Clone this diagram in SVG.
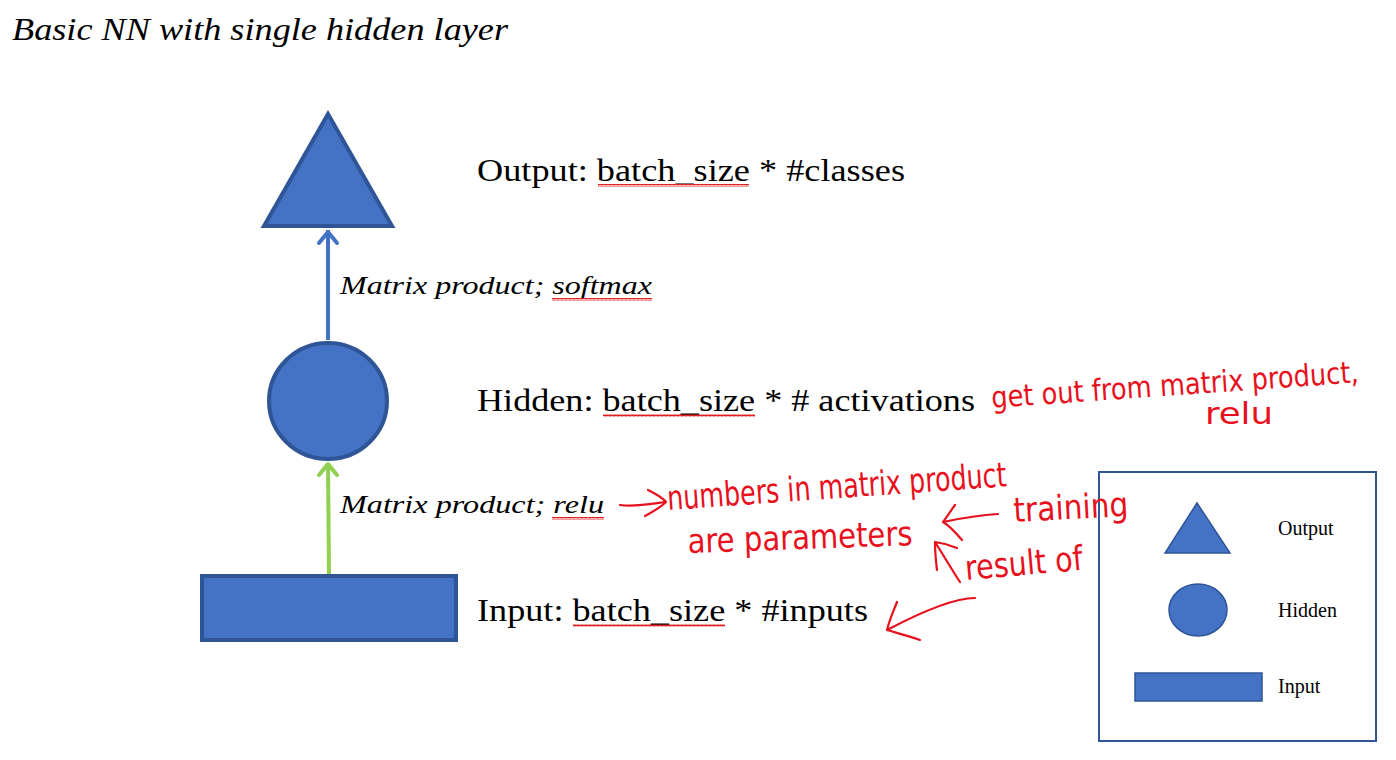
<svg xmlns="http://www.w3.org/2000/svg" width="1396" height="760" viewBox="0 0 1396 760">
<style>
.serif{font-family:"Liberation Serif","Times New Roman",serif;fill:#000}
.it{font-style:italic}
.shape{fill:#4472C4;stroke:#2F5597;stroke-width:4}
.lshape{fill:#4472C4;stroke:#2F5597;stroke-width:1.5}
.sq{fill:none;stroke:#E02020;stroke-width:1}
.hw{font-family:"Liberation Sans Narrow","DejaVu Sans Condensed","Liberation Sans",sans-serif;fill:#E8101C;font-size:34px}
.ink{fill:none;stroke:#E8101C;stroke-width:2.2;stroke-linecap:round;stroke-linejoin:round}
</style>
<defs>
<pattern id="wave" width="4" height="3" patternUnits="userSpaceOnUse">
<path d="M0,2.5 L1,0.5 L2,2.5 L3,0.5 L4,2.5" class="sq"/>
</pattern>
</defs>
<rect width="1396" height="760" fill="#fff"/>
<text class="serif it" x="12" y="40" font-size="32" textLength="496" lengthAdjust="spacingAndGlyphs">Basic NN with single hidden layer</text>

<g id="connectors">
<g id="edge-hidden-output">
<line x1="328" y1="340" x2="328" y2="230" stroke="#4472C4" stroke-width="4"/>
<polyline points="319,243 328,232 337,243" fill="none" stroke="#4472C4" stroke-width="4" stroke-linecap="round" stroke-linejoin="round"/>
</g>
<g id="edge-input-hidden">
<line x1="329" y1="575" x2="328" y2="463" stroke="#92D050" stroke-width="4"/>
<polyline points="319,475 328,464 337,475" fill="none" stroke="#92D050" stroke-width="4" stroke-linecap="round" stroke-linejoin="round"/>
</g>
</g>

<g id="node-output">
<polygon class="shape" points="328,114 264,226 392,226"/>
<text class="serif" x="477" y="181" font-size="32" textLength="428" lengthAdjust="spacingAndGlyphs">Output: batch_size * #classes</text>
<rect x="598" y="184" width="151" height="3" fill="url(#wave)"/>
</g>

<g id="node-hidden">
<ellipse class="shape" cx="328" cy="401" rx="59" ry="58"/>
<text class="serif" x="477" y="411" font-size="32" textLength="498" lengthAdjust="spacingAndGlyphs">Hidden: batch_size * # activations</text>
<rect x="603" y="414" width="152" height="3" fill="url(#wave)"/>
</g>

<g id="node-input">
<rect class="shape" x="202" y="576" width="254" height="64"/>
<text class="serif" x="477" y="621" font-size="32" textLength="391" lengthAdjust="spacingAndGlyphs">Input: batch_size * #inputs</text>
<rect x="573" y="624" width="152" height="3" fill="url(#wave)"/>
</g>

<g id="label-softmax">
<text class="serif it" x="340" y="294" font-size="26" textLength="312" lengthAdjust="spacingAndGlyphs">Matrix product; softmax</text>
<rect x="552" y="298" width="100" height="3" fill="url(#wave)"/>
</g>
<g id="label-relu">
<text class="serif it" x="340" y="513" font-size="26" textLength="264" lengthAdjust="spacingAndGlyphs">Matrix product; relu</text>
<rect x="552" y="517" width="52" height="3" fill="url(#wave)"/>
</g>

<g id="legend">
<rect x="1099" y="472" width="277" height="269" fill="none" stroke="#2F5597" stroke-width="2"/>
<polygon class="lshape" points="1197,503 1165,553 1230,553"/>
<text class="serif" x="1278" y="535" font-size="20">Output</text>
<ellipse class="lshape" cx="1198" cy="610" rx="29" ry="26"/>
<text class="serif" x="1278" y="617" font-size="20">Hidden</text>
<rect class="lshape" x="1135" y="673" width="127" height="28"/>
<text class="serif" x="1278" y="693" font-size="20">Input</text>
</g>

<g id="annotations">
<text class="hw" x="992" y="408" font-size="30" transform="rotate(-4 992 408)" textLength="368" lengthAdjust="spacingAndGlyphs" style="font-size:30px">get out from matrix product,</text>
<text class="hw" x="1205" y="424" textLength="68" lengthAdjust="spacingAndGlyphs" style="font-size:30px">relu</text>
<path class="ink" d="M620,505 C635,507 650,504 665,502 M648,490 C656,494 663,498 666,502 C660,508 652,512 645,516"/>
<text class="hw" x="668" y="510" transform="rotate(-4 668 510)" textLength="340" lengthAdjust="spacingAndGlyphs">numbers in matrix product</text>
<text class="hw" x="688" y="553" transform="rotate(-2 688 553)" textLength="225" lengthAdjust="spacingAndGlyphs">are parameters</text>
<text class="hw" x="1014" y="522" transform="rotate(-3 1014 522)" textLength="115" lengthAdjust="spacingAndGlyphs">training</text>
<path class="ink" d="M998,514 C980,515 962,518 943,522 M955,505 C950,512 946,518 943,522 C950,526 956,533 962,540"/>
<text class="hw" x="966" y="580" transform="rotate(-5 966 580)" textLength="118" lengthAdjust="spacingAndGlyphs">result of</text>
<path class="ink" d="M960,582 C952,570 944,556 935,542 M935,542 C935,553 936,562 937,570 M935,542 C943,543 950,545 957,548"/>
<path class="ink" d="M975,598 C955,598 925,610 887,630 M887,630 C890,618 894,610 897,602 M887,630 C897,633 908,636 920,640"/>
</g>
</svg>
